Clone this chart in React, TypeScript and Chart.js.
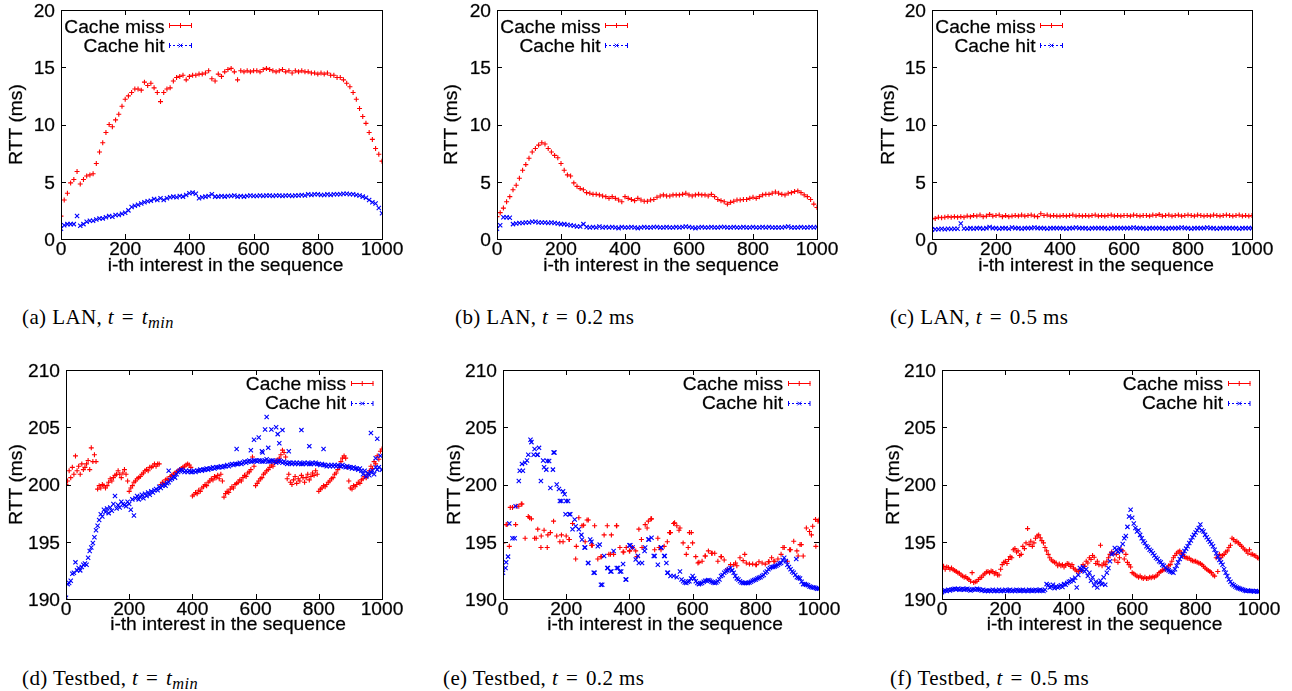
import React, { useEffect, useRef } from "react";
import { Chart, registerables } from "chart.js";
Chart.register(...registerables);

// ---------- shared text / ticks ----------
const X_TICKS = [0, 200, 400, 600, 800, 1000];
const Y_TICKS_LAN = [0, 5, 10, 15, 20];
const Y_TICKS_TESTBED = [190, 195, 200, 205, 210];
const LEGEND_LABELS = ["Cache miss", "Cache hit"];
const X_TITLE = "i-th interest in the sequence";
const Y_TITLE = "RTT (ms)";

// ---------- (a) LAN, t = t_min  (x step 10) ----------
const aMiss = [
  2.0, 3.4, 4.0, 4.9, 5.2, 5.9, 4.8, 5.2, 5.5, 5.6,
  5.7, 6.6, 7.6, 8.4, 9.3, 10.0, 9.8, 10.4, 10.9, 11.6,
  12.2, 12.5, 12.8, 13.1, 13.1, 13.0, 13.7, 13.4, 13.6, 13.2,
  12.8, 12.0, 12.8, 13.1, 13.2, 13.8, 14.1, 14.2, 14.3, 13.9,
  14.2, 14.3, 14.3, 14.4, 14.4, 14.5, 14.7, 14.0, 13.8, 14.4,
  14.2, 14.6, 14.8, 14.9, 14.6, 13.9, 14.7, 14.6, 14.7, 14.6,
  14.7, 14.7, 14.6, 14.8, 14.9, 14.8, 14.7, 14.6, 14.7, 14.8,
  14.6, 14.7, 14.5, 14.7, 14.6, 14.7, 14.6, 14.6, 14.5, 14.5,
  14.4, 14.5, 14.4, 14.5, 14.3, 14.3, 14.1, 14.1, 13.9, 13.6,
  13.3, 12.8, 12.2, 11.4, 10.7, 10.1, 9.3, 8.7, 7.9, 7.4,
  6.8,
];
const aHit = [
  0.9, 1.2, 1.3, 1.3, 1.3, 2.0, 1.15, 1.3, 1.5, 1.6,
  1.6, 1.7, 1.8, 1.8, 1.9, 2.0, 1.95, 2.1, 2.1, 2.2,
  2.3, 2.5, 2.8, 2.9, 3.0, 3.1, 3.2, 3.3, 3.35, 3.5,
  3.4, 3.55, 3.4, 3.55, 3.65, 3.7, 3.65, 3.75, 3.7, 3.85,
  4.0, 4.05, 3.95, 3.55, 3.65, 3.7, 3.75, 3.9, 3.7, 3.7,
  3.75, 3.7, 3.75, 3.75, 3.8, 3.7, 3.75, 3.7, 3.75, 3.8,
  3.75, 3.75, 3.8, 3.75, 3.8, 3.8, 3.75, 3.8, 3.8, 3.75,
  3.8, 3.8, 3.75, 3.8, 3.8, 3.85, 3.8, 3.9, 3.85, 3.9,
  3.9, 3.85, 3.85, 3.9, 3.85, 3.9, 3.9, 3.9, 3.95, 3.95,
  3.9, 3.9, 3.85, 3.8, 3.7, 3.6, 3.4, 3.2, 3.1, 2.7,
  2.25,
];
const aMissAtZero = [1.5, 2.6];
const aHitAtZero = [0.7, 1.2];

// ---------- (b) LAN, t = 0.2 ms ----------
const bMiss = [
  1.95, 2.3, 2.7, 3.25, 3.7, 4.3, 4.7, 5.3, 6.0, 6.5,
  7.05, 7.6, 7.9, 8.2, 8.4, 8.3, 7.9, 7.6, 7.3, 7.1,
  6.6, 6.0, 5.6, 5.5, 4.9, 4.6, 4.4, 4.3, 4.05, 4.0,
  3.9, 3.9, 3.85, 3.75, 3.7, 3.55, 3.7, 3.55, 3.4, 3.25,
  3.7, 3.55, 3.45, 3.35, 3.55, 3.4, 3.3, 3.3, 3.4, 3.45,
  3.65, 3.75, 3.85, 3.75, 3.75, 3.85, 3.85, 3.85, 3.9, 4.0,
  3.85, 3.75, 3.85, 3.9, 3.85, 3.85, 3.75, 3.9, 3.7, 3.45,
  3.35, 3.25, 3.05, 3.2, 3.3, 3.4, 3.4, 3.45, 3.45, 3.55,
  3.65, 3.55, 3.7, 3.85, 3.9, 3.9, 4.0, 4.1, 4.0, 3.9,
  3.85, 4.0, 4.05, 4.15, 4.2, 4.05, 3.85, 3.7, 3.45, 3.05,
  2.75,
];
const bHit = [
  0.9, 1.2, 1.9, 1.9, 1.85, 1.3, 1.35, 1.4, 1.4, 1.45,
  1.45, 1.5, 1.5, 1.45, 1.45, 1.45, 1.4, 1.45, 1.4, 1.35,
  1.3, 1.3, 1.25, 1.2, 1.15, 1.1, 1.1, 1.3, 1.05, 1.0,
  1.05, 1.0, 1.1, 1.0, 1.05, 1.0, 1.05, 1.0, 0.95, 1.05,
  1.0, 1.0, 1.05, 1.0, 0.95, 1.0, 1.05, 1.0, 1.0, 1.05,
  1.05, 1.0, 1.0, 1.05, 1.0, 1.0, 1.05, 1.0, 1.05, 1.1,
  1.05, 1.0, 0.95, 1.0, 1.05, 1.0, 1.0, 1.05, 1.0, 1.0,
  1.05, 1.05, 1.0, 1.0, 1.05, 1.0, 1.0, 1.05, 1.0, 1.0,
  1.05, 1.0, 1.0, 1.05, 1.0, 1.05, 1.0, 1.0, 1.0, 1.0,
  1.05, 1.1, 1.0, 1.0, 1.0, 1.05, 1.0, 1.0, 1.05, 1.0,
  1.05,
];
const bMissAtZero = [1.5, 2.2];
const bHitAtZero = [0.8, 1.1];

// ---------- (c) LAN, t = 0.5 ms ----------
const cMiss = [
  1.75, 1.8, 1.9, 1.85, 1.9, 1.95, 1.9, 1.95, 1.9, 1.95,
  1.9, 2.0, 1.95, 2.05, 2.0, 2.1, 1.95, 2.0, 2.15, 2.0,
  2.05, 2.1, 1.95, 2.05, 1.95, 2.0, 2.05, 2.0, 2.1, 2.0,
  2.05, 2.1, 2.0, 1.95, 2.2, 2.05, 2.1, 2.0, 2.05, 2.0,
  2.0, 2.05, 2.0, 2.05, 2.1, 2.0, 2.05, 2.0, 2.05, 2.0,
  2.05, 2.1, 2.0, 2.05, 2.0, 2.05, 2.1, 2.0, 2.05, 2.0,
  2.05, 2.05, 2.0, 2.1, 2.05, 2.0, 2.05, 2.05, 2.0, 2.1,
  2.05, 2.15, 2.0, 2.05, 2.1, 2.0, 2.05, 2.1, 2.0, 2.05,
  2.1, 2.05, 2.0, 2.1, 2.05, 2.0, 2.05, 2.0, 2.1, 2.05,
  2.0, 2.05, 2.1, 2.05, 2.0, 2.05, 2.1, 2.0, 2.05, 2.0,
  2.05,
];
const cHit = [
  0.8, 0.85, 0.85, 0.9, 0.85, 0.9, 0.88, 0.9, 0.9, 1.35,
  0.92, 0.9, 0.95, 0.9, 0.95, 0.95, 0.9, 0.95, 1.05, 0.95,
  0.95, 0.9, 0.95, 0.95, 0.9, 1.0, 0.95, 0.95, 0.9, 0.95,
  0.95, 0.95, 1.0, 0.95, 0.95, 0.95, 0.9, 0.95, 0.95, 0.95,
  0.95, 0.95, 0.9, 0.95, 0.95, 1.0, 0.95, 0.95, 0.95, 0.9,
  0.95, 0.95, 0.95, 0.95, 0.95, 0.9, 0.95, 0.95, 0.95, 0.95,
  0.95, 0.95, 0.95, 1.0, 0.95, 0.95, 0.95, 0.9, 0.95, 0.95,
  0.95, 0.95, 0.95, 0.9, 0.95, 0.95, 0.95, 0.95, 1.0, 0.95,
  0.95, 0.9, 0.95, 0.95, 0.95, 0.95, 1.0, 0.95, 0.95, 0.9,
  0.95, 0.95, 0.95, 0.95, 0.95, 0.95, 0.9, 0.95, 0.95, 0.95,
  0.95,
];
const cMissAtZero = [1.6, 1.8];
const cHitAtZero = [0.75, 0.9];

// ---------- (d) Testbed, t = t_min  (x step 5) ----------
const dMiss = [
  200.0, 200.3, 201.2, 200.6, 201.5, 200.9, 202.5, 201.2, 201.6, 200.9,
  201.8, 201.3, 201.5, 201.8, 202.1, 201.3, 203.2, 202.0, 202.6, 202.0,
  199.6, 199.9, 199.7, 200.0, 199.9, 199.7, 199.9, 200.2, 200.5, 200.3,
  200.6, 200.8, 200.9, 201.2, 200.9, 200.6, 201.0, 201.3, 200.9, 200.3,
  199.4, 199.7, 199.9, 200.2, 200.3, 200.5, 200.6, 200.7, 200.9, 201.0,
  201.2, 201.3, 201.2, 201.5, 201.5, 201.6, 201.8, 201.6, 201.8, 201.8,
  200.0, 200.2, 200.1, 200.4, 200.5, 200.4, 200.7, 200.8, 200.9, 201.0,
  201.1, 201.2, 201.3, 201.4, 201.5, 201.6, 201.7, 201.8, 201.7, 201.5,
  199.0, 199.1, 199.3, 199.2, 199.5, 199.4, 199.7, 199.8, 200.0, 199.9,
  200.2, 200.3, 200.5, 200.4, 200.7, 200.6, 200.8, 200.5, 200.9, 200.3,
  198.9, 199.2, 199.4, 199.3, 199.6, 199.8, 199.7, 200.0, 200.1, 200.2,
  200.4, 200.3, 200.6, 200.8, 200.7, 201.0, 201.1, 201.3, 202.4, 201.6,
  199.9, 200.1, 200.3, 200.5, 200.6, 200.9, 201.0, 201.2, 201.3, 201.5,
  201.7, 201.6, 201.9, 202.1, 202.0, 202.3, 202.6, 203.0, 202.8, 202.4,
  200.5, 200.9, 200.2, 200.0, 200.4, 200.7, 200.1, 200.5, 200.3, 200.8,
  200.6, 200.2, 200.6, 200.9, 200.4, 200.7, 201.0, 200.8, 201.2, 200.9,
  199.4, 199.6, 199.7, 199.9, 199.8, 200.0, 200.2, 200.3, 200.5, 200.6,
  200.9, 201.0, 201.3, 201.5, 202.0, 202.3, 202.5, 202.3, 201.5, 200.3,
  199.7, 199.6, 199.9, 199.8, 200.0, 200.2, 200.1, 200.4, 200.5, 200.7,
  200.6, 200.9, 201.2, 201.6, 201.4, 202.0, 201.8, 202.5, 202.2, 202.9,
  203.1,
];
const dHit = [
  190.1, 191.3, 191.4, 191.6, 192.2, 192.3, 193.2, 192.5, 192.7, 192.5,
  192.8, 193.0, 193.1, 193.0, 193.6, 194.2, 194.5, 194.9, 195.4, 196.0,
  196.4, 196.9, 197.4, 197.2, 197.8, 197.6, 197.9, 197.5, 198.0, 197.7,
  198.3, 199.0, 197.9, 198.2, 198.0, 198.5, 198.3, 198.2, 198.1, 198.5,
  198.3, 197.8, 198.7, 197.3, 198.8, 199.0, 198.7, 198.9, 199.1, 198.8,
  199.2, 199.0, 199.3, 199.1, 199.4, 199.3, 199.5, 199.6, 199.5, 199.8,
  199.7, 199.9, 200.0, 199.9, 200.1, 200.2, 200.4, 200.5, 200.7, 200.6,
  200.9, 201.1, 201.2, 201.3, 201.2, 201.1, 201.2, 201.1, 201.2, 201.1,
  201.1, 201.2, 201.1, 201.2, 201.2, 201.3, 201.2, 201.3, 201.3, 201.4,
  201.3, 201.4, 201.4, 201.5, 201.4, 201.5, 201.5, 201.5, 201.6, 201.5,
  201.6, 201.6, 201.7, 201.6, 201.7, 201.8, 201.7, 201.8, 201.8, 201.8,
  201.9, 201.8, 201.9, 202.0, 201.9, 202.0, 202.1, 202.0, 202.0, 202.1,
  202.1, 202.0, 202.1, 202.1, 202.0, 202.0, 202.1, 202.2, 202.0, 202.0,
  202.1, 202.1, 202.0, 201.9, 202.0, 202.1, 202.0, 201.9, 202.0, 201.9,
  201.8, 201.9, 201.9, 201.8, 201.9, 201.8, 201.9, 201.8, 201.9, 201.8,
  201.8, 201.9, 201.8, 201.9, 201.8, 201.8, 201.9, 201.8, 201.9, 201.8,
  201.8, 201.7, 201.8, 201.7, 201.7, 201.6, 201.7, 201.6, 201.7, 201.6,
  201.7, 201.6, 201.7, 201.6, 201.6, 201.7, 201.6, 201.5, 201.6, 201.5,
  201.5, 201.4, 201.5, 201.4, 201.4, 201.3, 201.4, 201.2, 200.9, 201.2,
  200.7, 201.0, 200.8, 201.1, 201.2, 200.9, 201.5, 201.3, 201.5, 202.5,
  201.3,
];
const dHitOutliers: [number, number][] = [
  [325, 201.2], [540, 203.1], [585, 203.0], [595, 203.9], [610, 204.1], [620, 202.9],
  [630, 204.8], [635, 205.9], [640, 203.2], [650, 204.8], [665, 205.0], [670, 204.4],
  [675, 203.6], [685, 204.75], [705, 202.9], [745, 204.75], [770, 203.35], [815, 203.1],
  [965, 204.5], [985, 204.0], [980, 202.3], [622, 202.8],
];
const dMissAtZero = [198.5, 203.7];
const dHitAtZero = [190.0, 194.0];

// ---------- (e) Testbed, t = 0.2 ms  (x step 10 + scattered extras) ----------
const eMiss = [
  194.9, 196.5, 194.6, 198.0, 196.5, 198.1, 198.3, 195.3, 197.2, 197.0,
  195.3, 196.1, 194.5, 196.0, 194.5, 195.8, 196.8, 195.5, 195.0, 195.0,
  195.5, 195.2, 196.6, 193.5, 197.1, 196.4, 195.0, 196.9, 194.7, 196.4,
  193.5, 193.7, 195.6, 196.4, 193.9, 193.9, 196.4, 194.5, 194.1, 194.5,
  194.2, 194.5, 194.2, 196.1, 194.5, 196.5, 196.8, 197.0, 194.3, 195.3,
  194.3, 194.6, 195.0, 195.8, 196.6, 196.4, 196.2, 194.9, 193.9, 195.8,
  194.9, 193.7, 193.2, 193.3, 193.75, 194.2, 194.0, 194.0, 193.3, 193.7,
  193.4, 192.6, 193.0, 193.0, 192.9, 193.6, 193.35, 193.15, 193.05, 193.05,
  193.0, 193.25, 193.15, 193.05, 193.25, 193.6, 193.3, 193.5, 193.9, 194.5,
  193.3, 194.3, 195.05, 194.2, 194.75, 193.75, 196.2, 195.9, 196.35, 194.6,
  196.9,
];
const eHit = [
  192.3, 193.2, 196.6, 195.3, 198.1, 200.3, 201.8, 201.9, 202.6, 203.7,
  203.1, 202.6, 200.3, 201.5, 202.05, 199.7, 202.8, 200.0, 198.55, 199.4,
  198.55, 197.4, 196.1, 196.35, 196.1, 195.2, 194.5, 193.15, 195.0, 192.3,
  194.6, 191.25, 193.75, 192.7, 192.4, 194.2, 192.7, 192.4, 193.05, 191.7,
  194.7, 194.5, 193.45, 193.15, 193.15, 194.5, 195.2, 195.35, 193.75, 193.0,
  194.5, 193.75, 192.3, 192.0, 192.0, 191.9, 192.4, 191.55, 191.4, 191.55,
  192.0, 191.55, 191.3, 191.4, 191.6, 191.65, 191.5, 191.4, 191.55, 192.0,
  192.3, 192.5, 192.7, 192.3, 191.8, 191.55, 191.4, 191.4, 191.45, 191.6,
  191.7, 191.85, 192.0, 192.3, 192.6, 192.8, 192.85, 193.0, 193.15, 193.6,
  193.0, 192.6, 192.3, 191.9, 191.8, 191.3, 191.25, 191.1, 191.0, 190.95,
  190.9,
];
const eMissExtra: [number, number][] = [
  [13, 196.5], [23, 198.0], [42, 198.1], [58, 198.3], [84, 197.1], [105, 195.3],
  [121, 195.5], [142, 195.6], [185, 195.6], [209, 195.2], [232, 194.6], [255, 196.45],
  [266, 196.9], [283, 194.7], [311, 193.7], [335, 193.9], [343, 195.6], [359, 196.4],
  [382, 194.1], [401, 194.2], [424, 193.7], [438, 195.2], [456, 196.2], [468, 197.0],
  [494, 194.5], [527, 195.8], [543, 196.65], [557, 196.0], [586, 194.5], [596, 195.8],
  [617, 193.15], [640, 193.75], [662, 194.0], [691, 193.7], [736, 193.15], [765, 193.9],
  [802, 193.0], [842, 193.25], [857, 193.3], [886, 194.5], [907, 194.3], [934, 193.75],
  [944, 194.75], [970, 195.9], [976, 195.6], [989, 196.95], [997, 196.8],
];
const eHitExtra: [number, number][] = [
  [8, 192.7], [16, 193.7], [37, 195.3], [53, 201.2], [63, 201.2], [76, 202.1],
  [87, 203.9], [97, 202.6], [108, 202.6], [114, 203.2], [127, 202.1], [137, 201.3],
  [146, 202.05], [158, 201.3], [163, 202.8], [177, 199.6], [185, 198.55], [195, 199.15],
  [198, 197.4], [206, 198.55], [213, 197.4], [227, 196.95], [248, 195.6], [258, 194.5],
  [269, 193.15], [276, 195.2], [287, 192.3], [306, 194.75], [314, 191.25], [332, 192.7],
  [343, 192.4], [364, 192.7], [374, 192.4], [388, 191.7], [403, 194.7], [427, 193.75],
  [448, 194.2], [462, 195.2], [477, 193.75], [501, 194.5], [512, 193.75], [517, 193.15],
  [522, 192.3], [928, 193.5],
  [565, 191.7], [575, 191.45], [585, 191.5], [595, 191.8], [605, 191.8], [615, 191.4],
  [625, 191.35], [635, 191.5], [645, 191.6], [655, 191.6], [665, 191.45], [675, 191.45],
  [685, 191.7], [695, 192.1], [705, 192.4], [715, 192.6], [725, 192.5], [735, 192.0],
  [745, 191.7], [755, 191.45], [765, 191.4], [775, 191.4], [785, 191.5], [795, 191.65],
  [805, 191.8], [815, 191.9], [825, 192.1], [835, 192.4], [845, 192.7], [855, 192.8],
  [865, 192.9], [875, 193.1], [885, 193.4], [895, 193.3], [905, 192.8], [915, 192.4],
  [925, 192.1], [935, 191.85], [945, 191.5], [955, 191.3], [965, 191.2], [975, 191.05],
  [985, 191.0], [995, 190.9],
];
const eMissAtZero = [190.6, 199.2];
const eHitAtZero = [190.5, 194.0];

// ---------- (f) Testbed, t = 0.5 ms  (x step 5) ----------
const fMiss = [
  192.7, 192.85, 192.6, 192.8, 192.75, 192.6, 192.7, 192.55, 192.5, 192.4,
  192.3, 192.25, 192.1, 192.0, 191.9, 191.95, 191.8, 191.7, 191.55, 192.3,
  191.45, 191.5, 191.55, 191.7, 191.85, 191.9, 192.1, 192.2, 192.35, 192.4,
  192.3, 192.45, 192.4, 192.2, 192.3, 192.1, 192.1, 192.6, 193.0, 193.2,
  193.3, 193.1, 193.45, 193.7, 193.6, 194.3, 194.4, 194.1, 194.2, 193.8,
  193.9, 194.6, 194.4, 194.9, 196.15, 194.75, 195.05, 194.6, 194.9, 195.3,
  195.5, 195.6, 195.35, 195.1, 194.9, 194.5, 194.2, 193.9, 193.6, 193.4,
  193.3, 193.2, 193.15, 192.9, 193.05, 192.9, 193.0, 192.8, 192.95, 193.1,
  193.05, 192.85, 193.0, 192.7, 192.55, 192.45, 192.4, 192.6, 192.5, 193.0,
  192.85, 193.3, 193.15, 193.6, 193.45, 193.8, 193.65, 193.1, 193.3, 193.0,
  194.7, 192.9, 193.15, 193.0, 193.3, 193.6, 193.9, 194.1, 193.95, 193.4,
  193.9, 193.2, 193.6, 194.3, 194.2, 193.5, 193.9, 193.2, 193.0, 192.8,
  192.3, 192.2, 192.1, 192.0, 191.9, 192.0, 191.85, 191.8, 191.9, 191.8,
  191.8, 191.9, 191.85, 191.95, 191.9, 192.0, 192.1, 192.3, 192.4, 192.5,
  192.55, 192.6, 192.7, 192.9, 193.0, 193.3, 193.6, 193.8, 194.0, 194.1,
  194.2, 194.0, 193.9, 193.7, 193.6, 193.55, 193.55, 193.4, 193.35, 193.3,
  193.3, 193.2, 193.15, 193.1, 193.0, 192.85, 192.7, 192.6, 192.5, 192.4,
  192.3, 192.1, 192.0, 193.6, 192.4, 193.9, 193.6, 193.8, 193.9, 194.1,
  194.2, 194.5, 194.7, 195.3, 195.2, 195.0, 195.05, 194.9, 194.75, 194.6,
  194.45, 194.3, 194.2, 194.0, 194.3, 193.9, 193.9, 193.8, 193.75, 193.6,
  193.55,
];
const fHit = [
  190.6, 190.7, 190.75, 190.7, 190.8, 190.75, 190.8, 190.85, 190.9, 190.85,
  190.9, 190.8, 190.85, 190.9, 190.8, 190.85, 190.9, 190.8, 190.75, 190.8,
  190.85, 190.8, 190.9, 190.85, 190.8, 190.75, 190.8, 190.7, 190.75, 190.7,
  190.75, 190.7, 190.8, 190.7, 190.75, 190.7, 190.8, 190.7, 190.75, 190.7,
  190.8, 190.7, 190.75, 190.8, 190.7, 190.75, 190.7, 190.8, 190.75, 190.7,
  190.75, 190.8, 190.7, 190.75, 190.7, 190.8, 190.75, 190.7, 190.75, 190.8,
  190.7, 190.75, 190.8, 190.75, 190.7, 190.8, 191.3, 191.2, 191.0, 191.1,
  191.25, 190.95, 191.1, 191.0, 191.1, 191.2, 191.05, 191.3, 191.25, 191.4,
  191.5, 191.55, 191.7, 191.6, 191.85, 191.0, 192.1, 192.7, 192.5, 192.8,
  192.4, 192.6, 192.0, 192.3, 191.6, 191.9, 191.2, 191.5, 191.0, 191.4,
  191.6, 191.3, 191.9, 191.25, 192.3, 192.7, 193.3, 193.9, 194.0, 194.45,
  194.3, 194.1, 194.45, 194.2, 194.8, 195.3, 195.5, 196.3, 197.2, 197.8,
  197.1, 196.6, 196.2, 195.9, 196.0, 195.6, 195.3, 195.05, 194.9, 194.6,
  194.5, 194.3, 194.2, 194.0, 193.8, 193.6, 193.5, 193.3, 193.2, 193.0,
  192.9, 192.7, 192.6, 192.5, 192.4, 192.35, 192.3, 192.6, 192.9, 193.2,
  193.5, 193.7, 193.9, 194.2, 194.4, 194.6, 194.9, 195.1, 195.4, 195.6,
  195.8, 196.0, 196.2, 196.5, 196.0, 195.9, 195.6, 195.4, 195.2, 195.0,
  194.8, 194.6, 194.3, 194.0, 193.7, 193.4, 193.2, 193.0, 192.6, 192.3,
  192.0, 191.7, 191.5, 191.3, 191.2, 191.1, 191.0, 190.95, 190.9, 190.85,
  190.8, 190.75, 190.7, 190.75, 190.7, 190.7, 190.7, 190.65, 190.7, 190.65,
  190.65,
];
const fMissAtZero = [190.5, 195.0];
const fHitAtZero = [190.5, 190.8];

// ---------- styling / layout ----------
const RED = "#ff0000";
const BLUE = "#0000ff";
const FONT = '"Liberation Sans", Arial, Helvetica, sans-serif';
const FS = 19.2;

type Panel = {
  miss: number[];
  hit: number[];
  missExtra: [number, number][];
  hitExtra: [number, number][];
  missZero: number[];
  hitZero: number[];
  yMin: number;
  yMax: number;
  yTicks: number[];
  canvas: [number, number, number, number];
  plot: [number, number, number, number];
  legend: "left" | "right";
  yTitleGap: number;
  xTitleDy: number;
};

const PANELS: Panel[] = [
  { miss: aMiss, hit: aHit, missExtra: [], hitExtra: [], missZero: aMissAtZero, hitZero: aHitAtZero,
    yMin: 0, yMax: 20, yTicks: Y_TICKS_LAN, canvas: [0, 0, 430, 300], plot: [61, 10, 382, 239],
    legend: "left", yTitleGap: 43.5, xTitleDy: 32 },
  { miss: bMiss, hit: bHit, missExtra: [], hitExtra: [], missZero: bMissAtZero, hitZero: bHitAtZero,
    yMin: 0, yMax: 20, yTicks: Y_TICKS_LAN, canvas: [430, 0, 436, 300], plot: [497, 10, 817, 239],
    legend: "left", yTitleGap: 44.5, xTitleDy: 32 },
  { miss: cMiss, hit: cHit, missExtra: [], hitExtra: [], missZero: cMissAtZero, hitZero: cHitAtZero,
    yMin: 0, yMax: 20, yTicks: Y_TICKS_LAN, canvas: [866, 0, 426, 300], plot: [932, 10, 1252, 239],
    legend: "left", yTitleGap: 42.5, xTitleDy: 32 },
  { miss: dMiss, hit: dHit, missExtra: [], hitExtra: dHitOutliers, missZero: dMissAtZero, hitZero: dHitAtZero,
    yMin: 190, yMax: 210, yTicks: Y_TICKS_TESTBED, canvas: [0, 350, 430, 300], plot: [66, 370, 382, 599],
    legend: "right", yTitleGap: 48.5, xTitleDy: 31 },
  { miss: eMiss, hit: eHit, missExtra: eMissExtra, hitExtra: eHitExtra, missZero: eMissAtZero, hitZero: eHitAtZero,
    yMin: 190, yMax: 210, yTicks: Y_TICKS_TESTBED, canvas: [430, 350, 436, 300], plot: [503, 370, 819, 599],
    legend: "right", yTitleGap: 47.5, xTitleDy: 31 },
  { miss: fMiss, hit: fHit, missExtra: [], hitExtra: [], missZero: fMissAtZero, hitZero: fHitAtZero,
    yMin: 190, yMax: 210, yTicks: Y_TICKS_TESTBED, canvas: [866, 350, 426, 300], plot: [942, 370, 1259, 599],
    legend: "right", yTitleGap: 48, xTitleDy: 31 },
];

const toPoints = (vals: number[]) => {
  const step = 1000 / (vals.length - 1);
  return vals.map((y, i) => ({ x: i * step, y }));
};
const fromPairs = (pairs: [number, number][]) => pairs.map(([x, y]) => ({ x, y }));
const atZero = (ys: number[]) => ys.map((y) => ({ x: 0, y }));

function drawMarker(ctx: CanvasRenderingContext2D, kind: "plus" | "x", x: number, y: number, r: number) {
  ctx.beginPath();
  if (kind === "plus") {
    ctx.moveTo(x - r, y); ctx.lineTo(x + r, y);
    ctx.moveTo(x, y - r); ctx.lineTo(x, y + r);
  } else {
    const d = r * 0.75;
    ctx.moveTo(x - d, y - d); ctx.lineTo(x + d, y + d);
    ctx.moveTo(x - d, y + d); ctx.lineTo(x + d, y - d);
  }
  ctx.stroke();
}

// text drawn with a hairline stroke to mimic the heavier gnuplot rendering
function boldText(ctx: CanvasRenderingContext2D, s: string, x: number, y: number) {
  ctx.fillText(s, x, y);
  ctx.strokeText(s, x, y);
}

function makeFramePlugin(p: Panel) {
  return {
    id: "gnuplotFrame",
    afterDraw(chart: any) {
      const ctx: CanvasRenderingContext2D = chart.ctx;
      const xs = chart.scales.x;
      const ys = chart.scales.y;
      const { left: L, top: T, right: R, bottom: B } = chart.chartArea;
      ctx.save();
      ctx.setLineDash([]);
      ctx.strokeStyle = "#000";
      ctx.lineWidth = 1;
      ctx.strokeRect(L + 0.5, T + 0.5, R - L, B - T);
      ctx.beginPath();
      X_TICKS.forEach((v) => {
        const x = Math.round(xs.getPixelForValue(v)) + 0.5;
        ctx.moveTo(x, B); ctx.lineTo(x, B - 5);
        ctx.moveTo(x, T); ctx.lineTo(x, T + 5);
      });
      p.yTicks.forEach((v) => {
        const y = Math.round(ys.getPixelForValue(v)) + 0.5;
        ctx.moveTo(L, y); ctx.lineTo(L + 5, y);
        ctx.moveTo(R, y); ctx.lineTo(R - 5, y);
      });
      ctx.stroke();

      ctx.fillStyle = "#000";
      ctx.strokeStyle = "rgba(0,0,0,0.55)";
      ctx.lineWidth = 0.45;
      ctx.font = `${FS}px ${FONT}`;
      ctx.textBaseline = "alphabetic";
      ctx.textAlign = "center";
      X_TICKS.forEach((v) => boldText(ctx, String(v), xs.getPixelForValue(v), B + 16.2));
      ctx.textAlign = "right";
      p.yTicks.forEach((v) => boldText(ctx, String(v), L - 6, ys.getPixelForValue(v) + 0.358 * FS));
      ctx.textAlign = "center";
      boldText(ctx, X_TITLE, (L + R) / 2 + 4, B + p.xTitleDy);
      ctx.save();
      ctx.translate(L - p.yTitleGap + 0.26 * FS, (T + B) / 2);
      ctx.rotate(-Math.PI / 2);
      boldText(ctx, Y_TITLE, 0, 0);
      ctx.restore();

      // legend
      const entries = [
        { label: LEGEND_LABELS[0], color: RED, dashed: false, marker: "plus" as const },
        { label: LEGEND_LABELS[1], color: BLUE, dashed: true, marker: "x" as const },
      ];
      let textX: number, x1: number, x2: number, bases: number[], sdy: number[];
      if (p.legend === "left") {
        textX = L + 103.5; x1 = L + 108; x2 = L + 131;
        bases = [T + 23.3, T + 42.3]; sdy = [-8, -7.5];
      } else {
        textX = R - 36; x1 = R - 31; x2 = R - 8.5;
        bases = [T + 20, T + 39.3]; sdy = [-7, -6.5];
      }
      entries.forEach((e, i) => {
        ctx.fillStyle = "#000";
        ctx.strokeStyle = "rgba(0,0,0,0.55)";
        ctx.lineWidth = 0.45;
        ctx.textAlign = "right";
        boldText(ctx, e.label, textX, bases[i]);
        const sy = Math.round(bases[i] + sdy[i]) + 0.5;
        ctx.strokeStyle = e.color;
        ctx.lineWidth = 1;
        ctx.setLineDash(e.dashed ? [2, 2] : []);
        ctx.beginPath(); ctx.moveTo(x1, sy); ctx.lineTo(x2, sy); ctx.stroke();
        ctx.setLineDash([]);
        ctx.beginPath();
        ctx.moveTo(x1 + 0.5, sy - 2.5); ctx.lineTo(x1 + 0.5, sy + 2.5);
        ctx.moveTo(x2 - 0.5, sy - 2.5); ctx.lineTo(x2 - 0.5, sy + 2.5);
        ctx.stroke();
        drawMarker(ctx, e.marker, (x1 + x2) / 2, sy, 2.5);
      });
      ctx.restore();
    },
  };
}

function ChartPanel({ p }: { p: Panel }) {
  const ref = useRef<HTMLCanvasElement>(null);
  useEffect(() => {
    const [cx, cy, cw, ch] = p.canvas;
    const [L, T, R, B] = p.plot;
    const missStyle = { pointStyle: "cross", pointRadius: 2.5, borderColor: RED, backgroundColor: RED, borderWidth: 1.1, showLine: false, order: 3 };
    const hitStyle = { pointStyle: "crossRot", pointRadius: 3, borderColor: BLUE, backgroundColor: BLUE, borderWidth: 1.1, showLine: false, order: 1 };
    const chart = new Chart(ref.current as HTMLCanvasElement, {
      type: "scatter",
      data: {
        datasets: [
          { ...missStyle, data: toPoints(p.miss) },
          { ...missStyle, data: fromPairs(p.missExtra) },
          { data: atZero(p.missZero), showLine: true, pointRadius: 0, borderColor: RED, borderWidth: 1, order: 3 },
          { ...hitStyle, data: toPoints(p.hit) },
          { ...hitStyle, data: fromPairs(p.hitExtra) },
          { data: atZero(p.hitZero), showLine: true, pointRadius: 0, borderColor: BLUE, borderWidth: 1, order: 1 },
        ] as any,
      },
      options: {
        responsive: false,
        animation: false,
        devicePixelRatio: 1,
        events: [],
        layout: { padding: { left: L - cx, top: T - cy, right: cx + cw - R, bottom: cy + ch - B } },
        scales: {
          x: { type: "linear", min: 0, max: 1000, display: false },
          y: { type: "linear", min: p.yMin, max: p.yMax, display: false },
        },
        plugins: { legend: { display: false }, tooltip: { enabled: false } },
      } as any,
      plugins: [makeFramePlugin(p)],
    });
    return () => chart.destroy();
  }, [p]);
  const [cx, cy, cw, ch] = p.canvas;
  return (
    <canvas
      ref={ref}
      width={cw}
      height={ch}
      style={{ position: "absolute", left: cx, top: cy, width: cw, height: ch, display: "block" }}
    />
  );
}

const CAPTION_STYLE: React.CSSProperties = {
  position: "absolute",
  fontFamily: '"Liberation Serif", "Times New Roman", serif',
  fontSize: 21,
  lineHeight: 1,
  whiteSpace: "nowrap",
  color: "#000",
  letterSpacing: 0.4,
};
const SUB: React.CSSProperties = { fontSize: "0.78em", verticalAlign: "-0.25em", lineHeight: 0, fontStyle: "italic" };
const EQ: React.CSSProperties = { margin: "0 0.1em" };

function Tmin() {
  return (
    <>
      <i>t</i> <span style={EQ}>=</span> <i>t</i><span style={SUB}>min</span>
    </>
  );
}
function Tval({ v }: { v: string }) {
  return (
    <>
      <i>t</i> <span style={EQ}>=</span> {v} ms
    </>
  );
}

export default function App() {
  return (
    <div style={{ position: "absolute", left: 0, top: 0, width: 1292, height: 691, background: "#fff", overflow: "hidden" }}>
      {PANELS.map((p, i) => (
        <ChartPanel key={i} p={p} />
      ))}
      <div style={{ ...CAPTION_STYLE, left: 22, top: 307 }}>(a) LAN, <Tmin /></div>
      <div style={{ ...CAPTION_STYLE, left: 455, top: 307 }}>(b) LAN, <Tval v="0.2" /></div>
      <div style={{ ...CAPTION_STYLE, left: 890, top: 307 }}>(c) LAN, <Tval v="0.5" /></div>
      <div style={{ ...CAPTION_STYLE, left: 22, top: 668 }}>(d) Testbed, <Tmin /></div>
      <div style={{ ...CAPTION_STYLE, left: 443, top: 668 }}>(e) Testbed, <Tval v="0.2" /></div>
      <div style={{ ...CAPTION_STYLE, left: 890, top: 668 }}>(f) Testbed, <Tval v="0.5" /></div>
    </div>
  );
}
